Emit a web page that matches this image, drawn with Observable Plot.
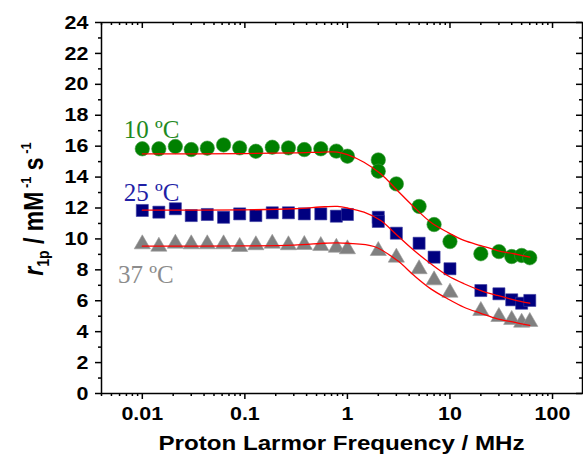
<!DOCTYPE html>
<html>
<head>
<meta charset="utf-8">
<script src="https://cdn.jsdelivr.net/npm/d3@7"></script>
<script src="https://cdn.jsdelivr.net/npm/@observablehq/plot@0.6"></script>
<style>
  html, body { margin: 0; padding: 0; background: #fff; }
  #chart svg { display: block; }
</style>
</head>
<body>
<div id="chart"></div>
<script>
// ---- data ----
const freqLow = [0.01, 0.0145, 0.021, 0.03, 0.043, 0.062, 0.089, 0.128, 0.185, 0.266, 0.38, 0.55, 0.78, 1.0];
const freq10 = [...freqLow, 2, 2, 3, 5, 7, 10, 20, 30, 40, 50, 60];
const r10 = [15.83, 15.83, 15.98, 15.78, 15.87, 16.08, 15.89, 15.67, 15.93, 15.89, 15.78, 15.83, 15.68, 15.35,
             15.11, 14.38, 13.56, 12.10, 10.93, 9.83, 9.04, 9.18, 8.86, 8.93, 8.78];
const freq25 = [...freqLow, 2, 2, 3, 5, 7, 10, 20, 30, 40, 50, 60];
const r25 = [11.84, 11.73, 11.95, 11.51, 11.58, 11.40, 11.62, 11.51, 11.69, 11.69, 11.62, 11.62, 11.47, 11.58,
             11.40, 11.13, 10.37, 9.72, 8.82, 8.07, 6.66, 6.45, 6.06, 5.84, 6.02];
const freq37 = [...freqLow, 2, 3, 5, 7, 10, 20, 30, 40, 50, 60];
const r37 = [9.66, 9.51, 9.70, 9.66, 9.66, 9.66, 9.49, 9.60, 9.70, 9.60, 9.62, 9.55, 9.44, 9.34,
             9.23, 8.80, 8.05, 7.33, 6.53, 5.35, 4.96, 4.77, 4.59, 4.64];

// fitted curves
const fitFreq = [0.01, 0.1, 0.3, 0.6, 0.8, 1.0, 1.45, 2.11, 3.07, 4.47, 6.5, 9.46, 13.7, 20, 29, 42, 60];
const fit10 = [15.50, 15.52, 15.56, 15.62, 15.62, 15.45, 14.96, 14.21, 13.13, 12.05, 11.08, 10.43, 9.90, 9.57, 9.25, 9.04, 8.82];
const fit25 = [11.86, 11.88, 11.95, 12.08, 12.10, 12.00, 11.73, 11.19, 10.22, 9.25, 8.39, 7.63, 7.10, 6.66, 6.34, 6.06, 5.84];
const fit37Freq = [0.01, 0.1, 0.3, 0.6, 0.8, 1.0, 1.82, 3.07, 4.47, 6.5, 9.46, 13.7, 20, 29, 42, 60];
const fit37 = [9.53, 9.55, 9.60, 9.72, 9.75, 9.72, 9.51, 8.60, 7.63, 6.77, 6.13, 5.58, 5.19, 4.83, 4.61, 4.40];

// labels
const seriesLabels = ["10 ºC", "25 ºC", "37 ºC"];
const labelX = [0.0066, 0.0066, 0.0058];
const labelY = [16.5, 12.45, 7.15];

// ticks
const xMajor = [0.01, 0.1, 1, 10, 100];
const xTickLabels = ["0.01", "0.1", "1", "10", "100"];
const xMinor = [];
for (const p of [0.001, 0.01, 0.1, 1, 10, 100]) for (let m = 2; m <= 9; m++) {
  const v = +(m * p).toPrecision(3);
  if (v >= 0.004 && v <= 196) xMinor.push(v);
}
const yMajor = [0, 2, 4, 6, 8, 10, 12, 14, 16, 18, 20, 22, 24];
const yMinor = [1, 3, 5, 7, 9, 11, 13, 15, 17, 19, 21, 23];

const xTitle = "Proton Larmor Frequency / MHz";

const pts = (f, r) => f.map((x, i) => ({x, y: r[i]}));

const W = 583, H = 455, mL = 101, mR = 1, mT = 22, mB = 62;
const innerW = W - mL - mR, innerH = H - mT - mB;
const SANS = "Liberation Sans, Arial, sans-serif";
const STRETCH = 1.13;

const tickFont = {fontSize: 19, fontWeight: "bold", fontFamily: SANS};

const plot = Plot.plot({
  width: W, height: H,
  marginLeft: mL, marginRight: mR, marginTop: mT, marginBottom: mB,
  style: {fontFamily: SANS, color: "#000", background: "#fff"},
  x: {type: "log", domain: [0.004, 196]},
  y: {domain: [0, 24]},
  marks: [
    // bottom axis
    Plot.axisX({ticks: xMajor, tickSize: 6, tickPadding: 7, tickFormat: d => xTickLabels[xMajor.indexOf(d)], label: null, strokeWidth: 1.5, ...tickFont}),
    Plot.axisX({ticks: xMinor, tickSize: 3, tickFormat: () => "", label: null, strokeWidth: 1.5}),
    // left axis
    Plot.axisY({ticks: yMajor, tickSize: 6, tickPadding: 7, tickFormat: d => String(d), label: null, strokeWidth: 1.5, ...tickFont}),
    Plot.axisY({ticks: yMinor, tickSize: 3, tickFormat: () => "", label: null, strokeWidth: 1.5}),
    // top inward ticks
    Plot.tickX(xMajor, {x: d => d, insetBottom: innerH - 6, strokeWidth: 1.5}),
    Plot.tickX(xMinor, {x: d => d, insetBottom: innerH - 3, strokeWidth: 1.5}),
    // right inward ticks
    Plot.tickY(yMajor, {y: d => d, insetLeft: innerW - 6, strokeWidth: 1.5}),
    Plot.tickY(yMinor, {y: d => d, insetLeft: innerW - 3, strokeWidth: 1.5}),
    Plot.frame({stroke: "#000", strokeWidth: 1.5}),
    // data
    Plot.dot(pts(freq10, r10), {x: "x", y: "y", r: 7.2, fill: "#008000", stroke: "#3a9a3a", strokeWidth: 0.6, symbol: "circle"}),
    Plot.dot(pts(freq25, r25), {x: "x", y: "y", r: 6.8, fill: "#000080", stroke: "#3a3aa0", strokeWidth: 0.6, symbol: "square"}),
    Plot.dot(pts(freq37, r37), {x: "x", y: "y", r: 6, fill: "#808080", stroke: "#9a9a9a", strokeWidth: 0.6, symbol: "triangle"}),
    // fits
    Plot.line(pts(fitFreq, fit10), {x: "x", y: "y", stroke: "#ff0000", strokeWidth: 1.3, curve: "catmull-rom"}),
    Plot.line(pts(fitFreq, fit25), {x: "x", y: "y", stroke: "#ff0000", strokeWidth: 1.3, curve: "catmull-rom"}),
    Plot.line(pts(fit37Freq, fit37), {x: "x", y: "y", stroke: "#ff0000", strokeWidth: 1.3, curve: "catmull-rom"}),
    // series labels
    Plot.text(seriesLabels, {x: (d, i) => labelX[i], y: (d, i) => labelY[i], text: d => d,
      fill: (d, i) => ["#1f8a1f", "#1f1fa6", "#8c8c8c"][i],
      textAnchor: "start", lineAnchor: "bottom", fontSize: 25,
      fontFamily: "Liberation Serif, Times New Roman, serif"})
  ]
});

document.getElementById("chart").appendChild(plot);
const svg = d3.select(plot);

// widen axis tick labels horizontally, as in the reference rendering
svg.selectAll('g[aria-label="x-axis tick label"] text, g[aria-label="y-axis tick label"] text').each(function () {
  const el = d3.select(this);
  const tr = el.attr("transform") || "";
  el.attr("transform", tr + ` scale(${STRETCH},1)`);
});

// x-axis title
svg.append("text")
  .attr("transform", `translate(${mL + innerW / 2},450) scale(${STRETCH + 0.02},1)`)
  .attr("text-anchor", "middle")
  .attr("font-family", SANS)
  .attr("font-weight", "bold")
  .attr("font-size", 21)
  .attr("fill", "#000")
  .text(xTitle);

// y-axis title with subscript / superscripts
const t = svg.append("text")
  .attr("transform", `translate(43,209) scale(${STRETCH + 0.05},1) rotate(-90)`)
  .attr("text-anchor", "middle")
  .attr("font-family", SANS)
  .attr("font-weight", "bold")
  .attr("font-size", 23)
  .attr("fill", "#000");
t.append("tspan").attr("font-style", "italic").text("r");
t.append("tspan").attr("font-size", 14).attr("dy", 5).text("1p");
t.append("tspan").attr("dy", -5).text(" / mM");
t.append("tspan").attr("font-size", 13).attr("dy", -10).text(" -1");
t.append("tspan").attr("dy", 10).text(" s");
t.append("tspan").attr("font-size", 13).attr("dy", -10).text(" -1");
</script>
</body>
</html>
